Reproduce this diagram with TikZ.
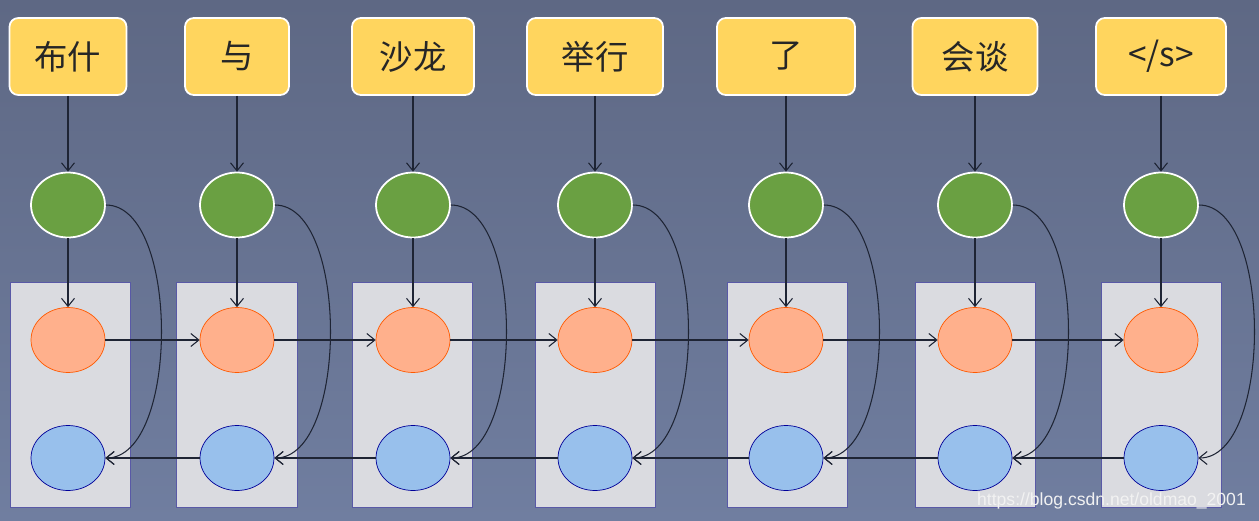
\documentclass[tikz,border=0pt]{standalone}
\usepackage{fontspec}
\newfontfamily\cjk{Noto Sans CJK SC}
\setsansfont{Liberation Sans}
\usetikzlibrary{arrows.meta, shapes.geometric}

\definecolor{bg_top}{RGB}{94,104,132}
\definecolor{bg_bot}{RGB}{112,126,160}
\definecolor{word_color}{RGB}{255,213,94}
\definecolor{emb_color}{RGB}{106,160,66}
\definecolor{fwd_color}{RGB}{255,176,140}
\definecolor{bwd_color}{RGB}{152,192,236}
\definecolor{cell_color}{RGB}{218,219,224}
\definecolor{line_color}{RGB}{30,36,52}

\begin{document}
\begin{tikzpicture}[x=0.02cm, y=-0.02cm, >={Straight Barb[length=1.6mm,width=2.6mm]}]

\tikzstyle{word} = [rectangle, rounded corners=5pt, fill=word_color, draw=white, line width=1pt, minimum height=1.54cm, font=\cjk\fontsize{19}{21}\selectfont, text=black!85]
\tikzstyle{emb} = [ellipse, fill=emb_color, draw=white, line width=1pt, minimum width=1.48cm, minimum height=1.3cm]
\tikzstyle{fwd} = [ellipse, fill=fwd_color, draw=orange!70!red, line width=.4pt, minimum width=1.48cm, minimum height=1.3cm]
\tikzstyle{bwd} = [ellipse, fill=bwd_color, draw=blue!60!black, line width=.4pt, minimum width=1.48cm, minimum height=1.3cm]
\tikzstyle{cell} = [rectangle, fill=cell_color, draw=blue!30!gray, line width=.4pt, minimum height=4.5cm]
\tikzstyle{link} = [->, draw=line_color, line width=.6pt]

\useasboundingbox (0,0) rectangle (1259,521);
\shade[top color=bg_top, bottom color=bg_bot] (0,0) rectangle (1259,521);

% x, word width, cell left, cell right, text
\foreach \i/\x/\w/\cl/\cr/\txt in {1/68/2.34/10/130/布什, 2/237/2.08/176/297/与, 3/413/2.44/352/472/沙龙, 4/595/2.72/535/655/举行, 5/786/2.76/727/847/了, 6/975/2.5/915/1035/会谈, 7/1161/2.6/1101/1221/{</s>}}{
  \node (cell\i) [cell, minimum width={(\cr-\cl)*0.02cm}] at ({(\cl+\cr)/2}, 394.5) {};
  \node (word\i) [word, minimum width=\w cm] at (\x, 56.5) {\txt};
  \node (emb\i) [emb] at (\x, 205) {};
  \node (fwd\i) [fwd] at (\x, 340) {};
  \node (bwd\i) [bwd] at (\x, 458) {};
}

\foreach \i in {1,...,7}{
  \draw[link] (word\i) -- (emb\i);
  \draw[link] (emb\i) -- (fwd\i);
  \draw[link] (emb\i.east) to[out=0, in=0, looseness=0.75] (bwd\i.east);
}

\foreach \i [evaluate=\i as \j using int(\i+1)] in {1,...,6}{
  \draw[link] (fwd\i) -- (fwd\j);
  \draw[link] (bwd\j) -- (bwd\i);
}

\node (mark) [anchor=south east, text=white!90!gray, font=\sffamily\fontsize{10}{12}\selectfont] at (1252, 515) {https://blog.csdn.net/oldmao\_2001};

\end{tikzpicture}
\end{document}
